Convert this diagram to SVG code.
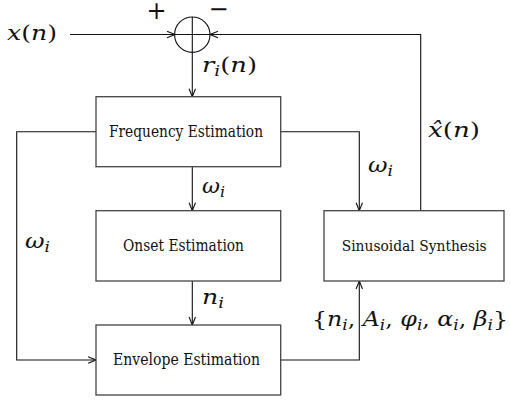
<svg xmlns="http://www.w3.org/2000/svg" width="510" height="402" viewBox="0 0 510 402">
<style>
.box{fill:#fff;stroke:#444;stroke-width:1.3}
.ln{fill:none;stroke:#111;stroke-width:1.1}
text{fill:#111;font-family:'DejaVu Serif',serif}
.lbl{font-size:17px;text-anchor:middle}
.m{font-size:21px}
.it{font-style:italic}
.sub{font-size:15px;font-style:italic}
</style>
<defs>
<marker id="arr" markerWidth="10" markerHeight="8" refX="9" refY="4" orient="auto" markerUnits="userSpaceOnUse">
<path d="M1,0.8 L9,4 L1,7.2" fill="none" stroke="#111" stroke-width="1.1"/>
</marker>
</defs>
<rect width="510" height="402" fill="#fff"/>
<g id="connectors">
<line class="ln" x1="70" y1="34.5" x2="175" y2="34.5" marker-end="url(#arr)"/>
<polyline class="ln" points="420.7,210.7 420.7,34.5 210,34.5" marker-end="url(#arr)"/>
<line class="ln" x1="192.3" y1="52.5" x2="192.3" y2="96.7" marker-end="url(#arr)"/>
<line class="ln" x1="192.3" y1="166.7" x2="192.3" y2="210.7" marker-end="url(#arr)"/>
<line class="ln" x1="192.3" y1="281" x2="192.3" y2="325" marker-end="url(#arr)"/>
<polyline class="ln" points="96,131.7 16.7,131.7 16.7,360 96,360" marker-end="url(#arr)"/>
<polyline class="ln" points="280.7,131.7 359.3,131.7 359.3,210.7" marker-end="url(#arr)"/>
<polyline class="ln" points="280.7,360 359.3,360 359.3,281" marker-end="url(#arr)"/>
</g>
<g id="sum">
<circle cx="192.3" cy="34.7" r="17.7" fill="none" stroke="#111" stroke-width="1.1"/>
<line class="ln" x1="174.6" y1="34.5" x2="210" y2="34.5"/>
<line class="ln" x1="192.3" y1="17" x2="192.3" y2="52.5"/>
<text x="156.5" y="18.5" text-anchor="middle" font-size="24" style="font-family:'DejaVu Sans',sans-serif">+</text>
<text x="218.5" y="16.5" text-anchor="middle" font-size="24" style="font-family:'DejaVu Sans',sans-serif">−</text>
</g>
<g id="freq">
<rect class="box" x="96" y="96.7" width="184.7" height="70"/>
<text class="lbl" x="186" y="136.7" textLength="154" lengthAdjust="spacingAndGlyphs">Frequency Estimation</text>
</g>
<g id="onset">
<rect class="box" x="96" y="210.7" width="184.7" height="70.3"/>
<text class="lbl" x="183.5" y="251" textLength="121" lengthAdjust="spacingAndGlyphs">Onset Estimation</text>
</g>
<g id="envelope">
<rect class="box" x="96" y="325" width="184.7" height="70"/>
<text class="lbl" x="186.5" y="365" textLength="147" lengthAdjust="spacingAndGlyphs">Envelope Estimation</text>
</g>
<g id="synth">
<rect class="box" x="324" y="210.7" width="180" height="70.3"/>
<text class="lbl" x="414.2" y="251" font-size="15.5" style="font-size:15.5px" textLength="145" lengthAdjust="spacingAndGlyphs">Sinusoidal Synthesis</text>
</g>
<g id="labels">
<text class="m" x="7" y="40" textLength="50" lengthAdjust="spacingAndGlyphs"><tspan class="it">x</tspan>(<tspan class="it">n</tspan>)</text>
<text class="m" x="202" y="72" textLength="55" lengthAdjust="spacingAndGlyphs"><tspan class="it">r</tspan><tspan class="sub" dy="4">i</tspan><tspan dy="-4">(</tspan><tspan class="it">n</tspan>)</text>
<text class="m" x="202" y="193" textLength="23" lengthAdjust="spacingAndGlyphs"><tspan class="it">ω</tspan><tspan class="sub" dy="4">i</tspan></text>
<text class="m" x="202" y="304" textLength="22" lengthAdjust="spacingAndGlyphs"><tspan class="it">n</tspan><tspan class="sub" dy="4">i</tspan></text>
<text class="m" x="368" y="172" textLength="25" lengthAdjust="spacingAndGlyphs"><tspan class="it">ω</tspan><tspan class="sub" dy="4">i</tspan></text>
<text class="m" x="25" y="248" textLength="25" lengthAdjust="spacingAndGlyphs"><tspan class="it">ω</tspan><tspan class="sub" dy="4">i</tspan></text>
<text class="m" x="428" y="137" textLength="52" lengthAdjust="spacingAndGlyphs"><tspan class="it">x̂</tspan>(<tspan class="it">n</tspan>)</text>
<text class="m" x="312" y="326" textLength="196" lengthAdjust="spacingAndGlyphs">{<tspan class="it">n</tspan><tspan class="sub" dy="4">i</tspan><tspan dy="-4">, </tspan><tspan class="it">A</tspan><tspan class="sub" dy="4">i</tspan><tspan dy="-4">, </tspan><tspan class="it">φ</tspan><tspan class="sub" dy="4">i</tspan><tspan dy="-4">, </tspan><tspan class="it">α</tspan><tspan class="sub" dy="4">i</tspan><tspan dy="-4">, </tspan><tspan class="it">β</tspan><tspan class="sub" dy="4">i</tspan><tspan dy="-4">}</tspan></text>
</g>
</svg>
